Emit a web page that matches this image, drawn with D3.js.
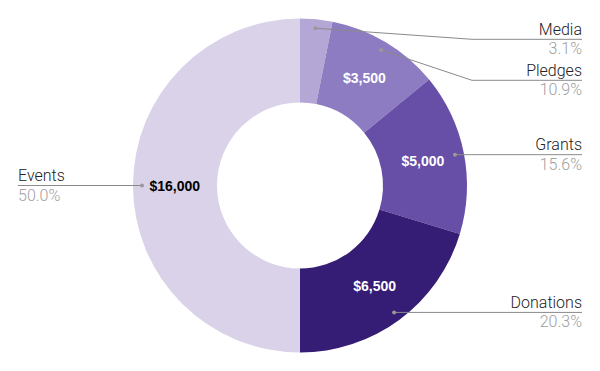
<!DOCTYPE html>
<html><head><meta charset="utf-8">
<script src="https://cdn.jsdelivr.net/npm/d3@7"></script>
<style>body{margin:0;background:#fff}svg{display:block}</style>
</head><body><svg id="c" width="600" height="371"></svg>
<script>
const categories = ["Media", "Pledges", "Grants", "Donations", "Events"];
const values = [1000, 3500, 5000, 6500, 16000];
const colors = ["#b4a7d6", "#8e7cc3", "#674ea7", "#351c75", "#d9d2e9"];
const valueLabelColors = ["#ffffff", "#ffffff", "#ffffff", "#ffffff", "#000000"];

const svg = d3.select("#c");
const cx = 300, cy = 185.5, R = 167, r = 83;
const g = svg.append("g").attr("transform", `translate(${cx},${cy})`);
const total = d3.sum(values);
const data = categories.map((c, i) => ({name: c, value: values[i], i}));
const pie = d3.pie().value(d => d.value).sort(null);
const arcs = pie(data);
const arc = d3.arc().innerRadius(r).outerRadius(R);
const labelArc = d3.arc().innerRadius(R * 0.75).outerRadius(R * 0.75);

g.selectAll("path.s").data(arcs).join("path").attr("class", "s")
  .attr("d", arc).attr("fill", d => colors[d.data.i]);

const fmt = d3.format("$,");
g.selectAll("text.v").data(arcs.filter(d => d.data.value / total > 0.05)).join("text")
  .attr("class", "v")
  .attr("transform", d => { const [x, y] = labelArc.centroid(d); return `translate(${x},${y + 5})`; })
  .attr("text-anchor", "middle")
  .attr("font-family", "'Liberation Sans', Arial, sans-serif")
  .attr("font-weight", "bold").attr("font-size", 14)
  .attr("fill", d => valueLabelColors[d.data.i])
  .text(d => fmt(d.data.value));

// leader lines and labels
const dotR = 158;
const lineYs = {Media: 39.3, Pledges: 80.3};
const rightX = 582, elbowX = 472, leftX = 18;
const pct = d3.format(".1%");
arcs.forEach(d => {
  const a = (d.startAngle + d.endAngle) / 2;
  const dx = cx + dotR * Math.sin(a), dy = cy - dotR * Math.cos(a);
  const right = a < Math.PI;
  let pts, ly, tx, anchor;
  if (right) {
    ly = lineYs[d.data.name] !== undefined ? lineYs[d.data.name] : dy;
    pts = lineYs[d.data.name] !== undefined ? [[dx, dy], [elbowX, ly], [rightX, ly]] : [[dx, dy], [rightX, ly]];
    tx = rightX; anchor = "end";
  } else {
    ly = dy;
    pts = [[dx, dy], [leftX, ly]];
    tx = leftX; anchor = "start";
  }
  svg.append("path").attr("d", d3.line()(pts)).attr("fill", "none")
    .attr("stroke", "#8a8a8a").attr("stroke-width", 1);
  svg.append("circle").attr("cx", dx).attr("cy", dy).attr("r", 2).attr("fill", "#999");
  svg.append("text").attr("x", tx).attr("y", ly - 4.5).attr("text-anchor", anchor)
    .attr("font-family", "Roboto, sans-serif").attr("font-weight", 300).attr("font-size", 16).attr("fill", "#222")
    .text(d.data.name);
  svg.append("text").attr("x", tx).attr("y", ly + 15).attr("text-anchor", anchor)
    .attr("font-family", "Roboto, sans-serif").attr("font-weight", 300).attr("font-size", 16).attr("fill", "#a0a0a0")
    .text(pct(d.data.value / total));
});
</script></body></html>
